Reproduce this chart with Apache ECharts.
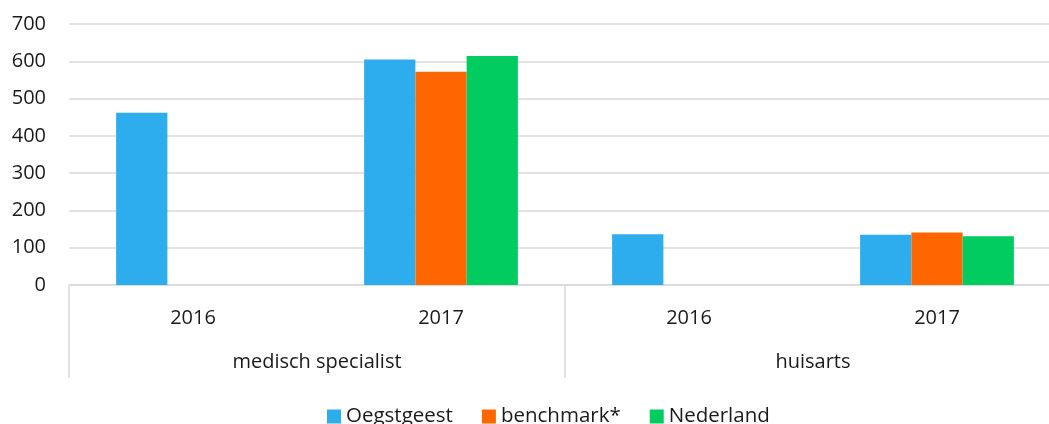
<!DOCTYPE html>
<html>
<head>
<meta charset="utf-8">
<script src="https://cdn.jsdelivr.net/npm/echarts@6/dist/echarts.min.js"></script>
<style>
  html, body { margin: 0; padding: 0; background: #fff; }
  #chart { width: 1049px; height: 424px; }
</style>
</head>
<body>
<div id="chart"></div>
<script>
// Years shown per group, and the two groups underneath
const years = ['2016', '2017', '2016', '2017'];
const groups = ['medisch specialist', 'huisarts'];

// Series values per year/group slot (null = no value)
const oegstgeest = [462, 605, 136, 135];
const benchmark = [null, 572, null, 141];
const nederland = [null, 614, null, 131];

const yTicks = { min: 0, max: 700, interval: 100 };

const FONT = 'Open Sans';
const TEXT = '#1a1a1a';
const GRIDLINE = '#D9D9D9';

const chart = echarts.init(document.getElementById('chart'), null, { renderer: 'canvas' });

const barSeries = (name, data, color) => ({
  name,
  type: 'bar',
  data,
  xAxisIndex: 0,
  barGap: '0%',
  barCategoryGap: '38%',
  itemStyle: { color },
  emphasis: { disabled: true }
});

chart.setOption({
  animation: false,
  textStyle: { fontFamily: FONT },
  // plot area runs past the right edge of the canvas
  grid: { left: 69, top: 24, width: 992, height: 261, containLabel: false, outerBoundsMode: 'none' },
  legend: {
    top: 401,
    left: 322,
    icon: 'rect',
    itemWidth: 14,
    itemHeight: 14,
    itemGap: 29,
    textStyle: { fontFamily: FONT, fontSize: 20.5, color: TEXT },
    data: ['Oegstgeest', 'benchmark*', 'Nederland']
  },
  xAxis: [
    {
      type: 'category',
      data: years,
      position: 'bottom',
      axisLine: { show: true, lineStyle: { color: GRIDLINE, width: 1.5 } },
      axisTick: { show: false },
      axisLabel: { fontFamily: FONT, fontSize: 20, color: TEXT, margin: 23, interval: 0 }
    },
    {
      type: 'category',
      data: groups,
      position: 'bottom',
      axisLine: { show: false },
      axisTick: { show: true, length: 93, interval: 0, lineStyle: { color: GRIDLINE, width: 1.5 } },
      axisLabel: { fontFamily: FONT, fontSize: 20, color: TEXT, margin: 67, interval: 0 }
    }
  ],
  yAxis: {
    type: 'value',
    min: yTicks.min,
    max: yTicks.max,
    interval: yTicks.interval,
    axisLine: { show: false },
    axisTick: { show: false },
    axisLabel: { fontFamily: FONT, fontSize: 20, color: TEXT, margin: 23 },
    splitLine: { lineStyle: { color: GRIDLINE, width: 1.5 } }
  },
  series: [
    barSeries('Oegstgeest', oegstgeest, '#2EADEE'),
    barSeries('benchmark*', benchmark, '#FF6600'),
    barSeries('Nederland', nederland, '#00CC5F')
  ]
});
</script>
</body>
</html>
